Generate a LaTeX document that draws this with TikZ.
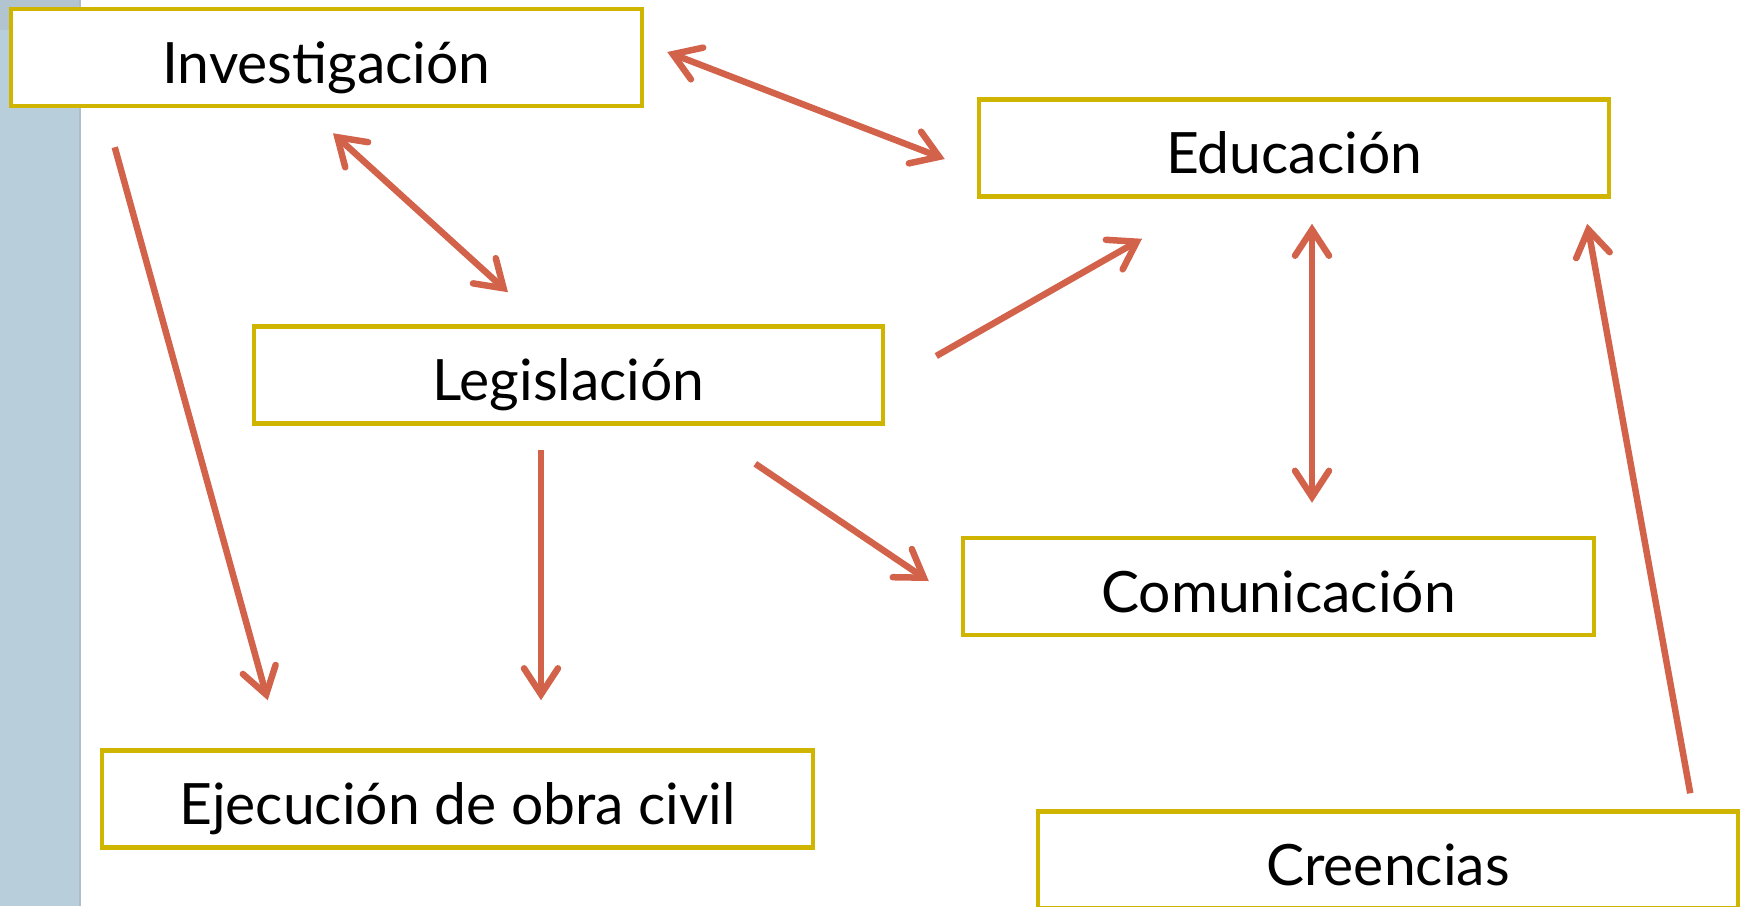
\documentclass[tikz,border=0pt]{standalone}
\usepackage{fontspec}
\setmainfont{Lato}
\usepackage{tikz}
\usetikzlibrary{arrows.meta}
\usetikzlibrary{calc}

\definecolor{boxgold}{HTML}{CFB500}
\definecolor{linkred}{HTML}{D2634A}
\definecolor{stripblue}{HTML}{B8CEDA}

\begin{document}
\begin{tikzpicture}[x=1pt,y=-1pt,
    box/.style={draw=boxgold,line width=4.5pt,fill=white,inner sep=0pt,
      minimum height=97pt,text height=62pt,text depth=11pt,
      font=\fontsize{57}{64}\selectfont},
    link/.style={draw=linkred,line width=6.5pt,
      -{Straight Barb[length=26pt,width=34pt,line cap=round]}},
    twoway/.style={link,{Straight Barb[length=26pt,width=34pt,line cap=round]}-{Straight Barb[length=26pt,width=34pt,line cap=round]}}]
      \useasboundingbox (0,0) rectangle (1744,906);
      % side strip of the slide
      \fill[stripblue] (0,0) rectangle (80,906);
      \draw[color=stripblue!80!gray,line width=2pt] (80,0) -- (80,906);
      \fill[stripblue!70!gray,opacity=0.4] (0,0) rectangle (80,30);

      \node[box,minimum width=631pt] (invest) at (326.5,57.5) {Investigación};
      \node[box,minimum width=630pt] (educa) at (1294,148) {Educación};
      \node[box,minimum width=629pt] (legis) at (568.5,375) {Legislación};
      \node[box,minimum width=631pt] (comun) at (1278.5,586.5) {Comunicación};
      \node[box,minimum width=711pt] (obra) at (457.5,799) {Ejecución de obra civil};
      \node[box,minimum width=700pt] (creen) at (1388,860) {Creencias};

      \draw[twoway] ([shift={(23,-5.5)}]invest.east) -- ([shift={(-32,11)}]educa.west);
      \draw[twoway] ([shift={(6.5,25)}]invest.south) -- ([shift={(-60.5,-32)}]legis.north);
      \draw[link] ([shift={(106,39)}]invest.south west) -- ([shift={(168,-48)}]obra.north west);
      \draw[link] ([shift={(-27.5,24)}]legis.south) -- ([shift={(83.5,-48)}]obra.north);
      \draw[link] ([shift={(-130,38)}]legis.south east) -- ([shift={(-32,-5.5)}]comun.west);
      \draw[link] ([shift={(51,-19)}]legis.east) -- ([shift={(-152,40)}]educa.south);
      \draw[twoway] ([shift={(18,25)}]educa.south) -- ([shift={(33.5,-33)}]comun.north);
      \draw[link] ([shift={(-50,-16)}]creen.north east) -- ([shift={(-24,25)}]educa.south east);
    \end{tikzpicture}
\end{document}
